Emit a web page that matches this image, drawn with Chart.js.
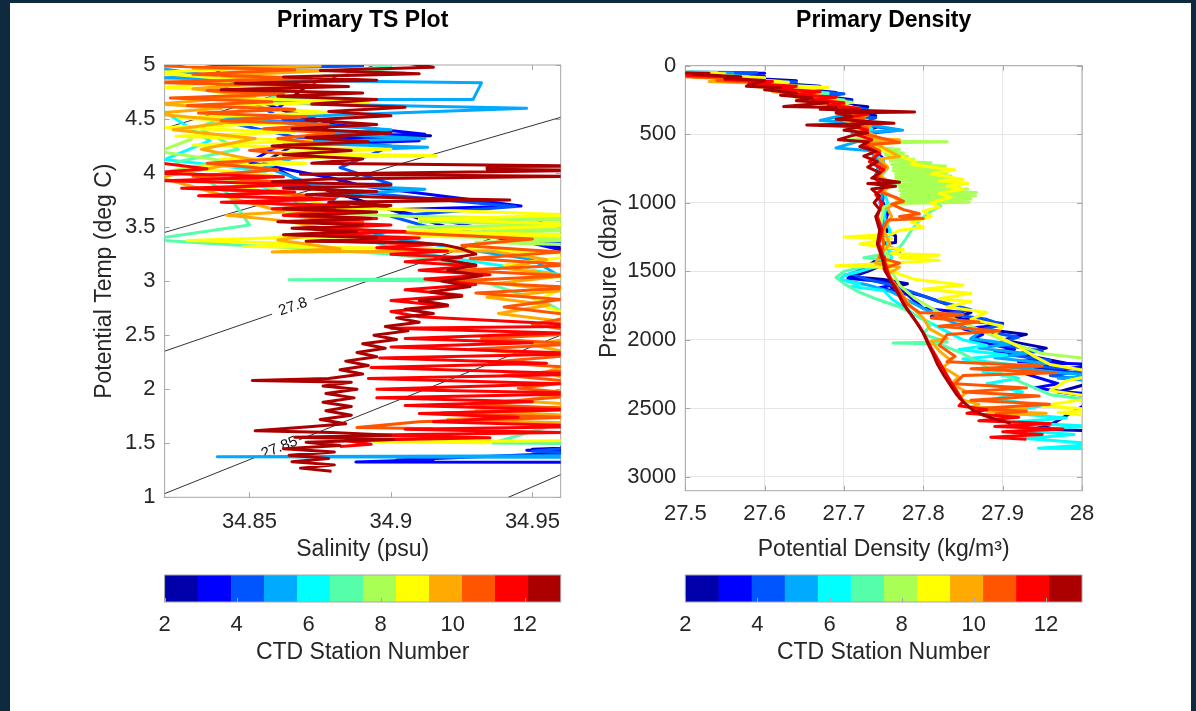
<!doctype html>
<html lang="en">
<head>
<meta charset="utf-8" />
<title>Primary TS Plot / Primary Density</title>
<script src="https://cdn.jsdelivr.net/npm/chart.js"></script>
<style>
  body { margin: 0; width: 1196px; height: 711px; background: #0d2a3f; position: relative; overflow: hidden; }
  #sheet { position: absolute; left: 10px; top: 3px; width: 1181px; height: 708px; background: #fff; }
  canvas { position: absolute; }
</style>
</head>
<body>
<div id="sheet"></div>
<canvas id="chartTS" width="600" height="572" style="left:0;top:0"></canvas>
<canvas id="chartDensity" width="606" height="572" style="left:590px;top:0"></canvas>
<canvas id="barTS" width="600" height="110" style="left:0;top:570px"></canvas>
<canvas id="barDensity" width="606" height="110" style="left:590px;top:570px"></canvas>
<script>
const FONT = "'Liberation Sans', Arial, Helvetica, sans-serif";
const INK = '#262626';
const BOX = '#a6a6a6';

// CTD stations and their colours (jet, 12 levels)
const stationNumbers = [2, 3, 4, 5, 6, 7, 8, 9, 10, 11, 12, 13];
const stationColors = ['#0000AA', '#0000FF', '#0055FF', '#00AAFF', '#00FFFF', '#55FFAA',
                       '#AAFF55', '#FFFF00', '#FFAA00', '#FF5500', '#FF0000', '#AA0000'];
const colorbarEdges = [2, 2.917, 3.833, 4.75, 5.667, 6.583, 7.5, 8.417, 9.333, 10.25, 11.167, 12.083, 13];
const colorbarTicks = [2, 4, 6, 8, 10, 12];

// TS plot ticks
const salTicks = [34.85, 34.9, 34.95];
const tempTicks = [1, 1.5, 2, 2.5, 3, 3.5, 4, 4.5, 5];
// density plot ticks
const rhoTicks = [27.5, 27.6, 27.7, 27.8, 27.9, 28];
const presTicks = [0, 500, 1000, 1500, 2000, 2500, 3000];

// isopycnals on the TS plot [salinity, temp]
const isoA = [[34.82, 4.414], [34.8947, 5.0]];
const isoB = [[34.82, 3.451], [34.96, 4.516]];
const isoC1 = [[34.82, 2.352], [34.858, 2.695]];
const isoC2 = [[34.873, 2.831], [34.96, 3.616]];
const isoD1 = [[34.82, 1.034], [34.8535, 1.385]];
const isoD2 = [[34.8675, 1.531], [34.96, 2.50]];
const isoE = [[34.9415, 1.0], [34.96, 1.21]];
const isoLabelText = ['27.8', '27.85'];
const isoLabelAt = [[34.8654, 2.762], [34.8606, 1.459]];

// TS traces per station [salinity, potential temp]
const ts2 = [[34.86,5.02],[34.84,4.8],[34.87,4.5],[34.88,4.365],[34.914,4.345],[34.87,4.32],[34.855,4.1],[34.87,3.9],[34.895,3.7],[34.92,3.5],[34.945,3.36],[34.955,3.345],[34.975,3.2],[34.98,2.0],[34.96,1.455],[34.95,1.445],[34.975,1.43]];
const ts3 = [[34.84,5.02],[34.86,4.98],[34.85,4.9],[34.87,4.8],[34.86,4.6],[34.88,4.45],[34.912,4.36],[34.87,4.33],[34.91,4.30],[34.86,4.25],[34.85,4.1],[34.88,3.95],[34.89,3.88],[34.946,3.695],[34.9,3.66],[34.93,3.5],[34.95,3.35],[34.975,3.2],[34.98,2.5],[34.98,1.6],[34.96,1.445],[34.948,1.435],[34.97,1.415],[34.902,1.345],[34.915,1.35],[34.8876,1.327],[34.97,1.325]];
const ts4 = [[34.82,5.0],[34.855,5.0],[34.89,4.99],[34.84,4.97],[34.836,4.86],[34.862,4.5],[34.874,4.48],[34.842,4.47],[34.872,4.3],[34.9,4.25],[34.882,4.05],[34.9,3.9],[34.862,3.885],[34.944,3.69],[34.9,3.6],[34.92,3.45],[34.96,3.35],[34.98,3.0],[34.98,1.5],[34.95,1.425],[34.97,1.405]];
const ts5 = [[34.81,5.0],[34.838,4.895],[34.818,4.88],[34.889,4.85],[34.932,4.835],[34.929,4.68],[34.852,4.68],[34.872,4.64],[34.948,4.60],[34.862,4.52],[34.838,4.50],[34.872,4.45],[34.9,4.40],[34.88,4.36],[34.912,4.32],[34.862,4.28],[34.913,4.24],[34.872,4.2],[34.856,4.05],[34.872,3.9],[34.912,3.85],[34.882,3.8],[34.872,3.6],[34.9,3.4],[34.95,3.2],[34.975,2.8],[34.975,1.6],[34.962,1.385],[34.8386,1.375],[34.97,1.37]];
const ts6 = [[34.815,4.65],[34.836,4.3],[34.82,4.125],[34.856,4.02],[34.842,4.0],[34.862,3.8],[34.882,3.5],[34.9,3.3],[34.975,3.0],[34.975,1.6]];
const ts7 = [[34.878,5.06],[34.9,4.98],[34.884,4.955],[34.905,4.925],[34.876,4.9],[34.868,4.8],[34.85,4.62],[34.832,4.42],[34.846,4.22],[34.824,4.1],[34.842,3.82],[34.85,3.52],[34.815,3.385],[34.845,3.335],[34.87,3.305],[34.9,3.25],[34.93,3.15],[34.926,3.022],[34.864,3.012],[34.932,3.0],[34.955,2.8],[34.975,2.5],[34.975,1.8],[34.936,1.502],[34.975,1.495]];
const ts8 = [[34.83,4.32],[34.818,4.2],[34.842,4.11],[34.822,4.02],[34.852,3.9],[34.872,3.76],[34.86,3.65],[34.905,3.6],[34.975,3.575],[34.91,3.55],[34.975,3.525],[34.906,3.50],[34.975,3.475],[34.91,3.45],[34.975,3.43],[34.918,3.41],[34.975,3.385],[34.93,3.36],[34.975,3.33],[34.98,3.0],[34.98,2.0]];
const ts9 = [[34.82,5.03],[34.842,4.96],[34.815,4.93],[34.848,4.86],[34.82,4.79],[34.862,4.745],[34.83,4.70],[34.892,4.66],[34.84,4.63],[34.878,4.56],[34.825,4.51],[34.862,4.46],[34.818,4.42],[34.866,4.38],[34.824,4.34],[34.872,4.30],[34.83,4.26],[34.9,4.22],[34.86,4.19],[34.916,4.16],[34.84,4.13],[34.87,4.09],[34.828,4.05],[34.858,3.98],[34.845,3.88],[34.868,3.77],[34.88,3.68],[34.93,3.645],[34.966,3.61],[34.91,3.575],[34.97,3.52],[34.902,3.46],[34.97,3.425],[34.862,3.405],[34.828,3.375],[34.872,3.345],[34.848,3.32],[34.92,3.3],[34.97,3.25],[34.94,3.15],[34.966,3.0],[34.95,2.8],[34.975,2.6],[34.962,2.3],[34.975,2.0],[34.962,1.7],[34.975,1.525],[34.894,1.512],[34.935,1.505]];
const ts10 = [[34.85,5.06],[34.875,4.99],[34.83,4.97],[34.878,4.95],[34.84,4.9],[34.862,4.84],[34.83,4.78],[34.852,4.71],[34.818,4.64],[34.84,4.6],[34.815,4.55],[34.845,4.48],[34.823,4.4],[34.852,4.32],[34.833,4.22],[34.852,4.12],[34.818,3.96],[34.832,3.86],[34.845,3.76],[34.862,3.64],[34.842,3.61],[34.862,3.56],[34.882,3.46],[34.86,3.38],[34.882,3.30],[34.858,3.27],[34.935,3.28],[34.955,3.2],[34.94,3.12],[34.962,3.05],[34.938,2.98],[34.96,2.91],[34.934,2.85],[34.956,2.78],[34.938,2.7],[34.96,2.63],[34.97,2.5],[34.95,2.41],[34.97,2.3],[34.955,2.16],[34.972,2.0],[34.945,1.89],[34.972,1.85],[34.93,1.8],[34.962,1.76],[34.92,1.72],[34.975,1.68]];
const ts11 = [[34.84,5.06],[34.82,4.99],[34.866,4.955],[34.83,4.915],[34.872,4.875],[34.815,4.84],[34.877,4.80],[34.835,4.765],[34.862,4.73],[34.822,4.695],[34.858,4.66],[34.828,4.625],[34.866,4.59],[34.832,4.555],[34.87,4.52],[34.84,4.485],[34.878,4.45],[34.855,4.41],[34.88,4.37],[34.86,4.32],[34.876,4.27],[34.85,4.21],[34.872,4.15],[34.835,4.09],[34.86,4.03],[34.83,3.97],[34.865,3.91],[34.838,3.85],[34.872,3.79],[34.852,3.73],[34.88,3.67],[34.862,3.61],[34.89,3.55],[34.88,3.49],[34.91,3.44],[34.95,3.39],[34.925,3.33],[34.96,3.27],[34.928,3.21],[34.965,3.15],[34.924,3.10],[34.962,3.05],[34.92,3.0],[34.966,2.94],[34.93,2.89],[34.96,2.83],[34.94,2.76],[34.966,2.68],[34.95,2.6],[34.97,2.52],[34.932,2.47],[34.966,2.42],[34.928,2.37],[34.962,2.31],[34.935,2.25],[34.97,2.19],[34.94,2.13],[34.965,2.07],[34.945,2.01],[34.97,1.95],[34.928,1.86],[34.966,1.82],[34.918,1.78],[34.962,1.74],[34.91,1.70],[34.888,1.645],[34.915,1.635]];
const ts12 = [[34.80,4.15],[34.835,4.04],[34.815,4.0],[34.862,3.965],[34.82,3.93],[34.87,3.895],[34.826,3.86],[34.866,3.825],[34.832,3.79],[34.88,3.76],[34.84,3.73],[34.885,3.70],[34.858,3.67],[34.89,3.64],[34.862,3.61],[34.895,3.58],[34.868,3.55],[34.9,3.52],[34.872,3.49],[34.905,3.46],[34.876,3.43],[34.91,3.40],[34.88,3.37],[34.915,3.34],[34.895,3.31],[34.92,3.28],[34.9,3.25],[34.925,3.22],[34.905,3.18],[34.93,3.14],[34.91,3.10],[34.935,3.06],[34.912,3.02],[34.93,2.97],[34.905,2.92],[34.925,2.87],[34.90,2.82],[34.92,2.77],[34.9,2.72],[34.91,2.67],[34.975,2.585],[34.90,2.565],[34.96,2.52],[34.905,2.47],[34.95,2.43],[34.9,2.39],[34.97,2.33],[34.896,2.29],[34.955,2.24],[34.893,2.2],[34.97,2.14],[34.892,2.1],[34.96,2.05],[34.895,2.0],[34.975,1.96],[34.895,1.92],[34.95,1.885],[34.905,1.85],[34.965,1.81],[34.91,1.775],[34.945,1.74],[34.915,1.70],[34.975,1.655],[34.905,1.63],[34.96,1.6],[34.888,1.575],[34.935,1.55],[34.884,1.525],[34.893,1.49],[34.882,1.47]];
const ts13 = [[34.895,5.06],[34.915,4.98],[34.875,4.95],[34.91,4.92],[34.862,4.89],[34.895,4.86],[34.845,4.83],[34.885,4.80],[34.84,4.77],[34.89,4.74],[34.86,4.71],[34.895,4.68],[34.872,4.64],[34.905,4.61],[34.878,4.57],[34.9,4.53],[34.87,4.49],[34.895,4.45],[34.865,4.41],[34.9,4.37],[34.87,4.33],[34.892,4.29],[34.858,4.25],[34.886,4.21],[34.862,4.17],[34.89,4.13],[34.872,4.09],[34.97,4.065],[34.934,4.06],[34.934,4.035],[34.97,4.025],[34.868,3.99],[34.965,3.97],[34.878,3.945],[34.858,3.92],[34.9,3.89],[34.862,3.86],[34.895,3.83],[34.87,3.80],[34.905,3.77],[34.942,3.75],[34.878,3.73],[34.9,3.70],[34.862,3.67],[34.895,3.64],[34.868,3.61],[34.893,3.58],[34.86,3.55],[34.89,3.52],[34.865,3.49],[34.888,3.46],[34.862,3.43],[34.895,3.40],[34.87,3.37],[34.905,3.36],[34.918,3.34],[34.925,3.3],[34.93,3.25],[34.918,3.2],[34.93,3.15],[34.92,3.1],[34.932,3.05],[34.918,3.0],[34.928,2.95],[34.914,2.9],[34.925,2.86],[34.91,2.82],[34.92,2.78],[34.905,2.74],[34.915,2.7],[34.902,2.66],[34.91,2.62],[34.898,2.58],[34.906,2.54],[34.894,2.5],[34.902,2.46],[34.89,2.42],[34.898,2.38],[34.888,2.34],[34.895,2.3],[34.884,2.26],[34.892,2.22],[34.882,2.18],[34.89,2.14],[34.878,2.1],[34.851,2.08],[34.886,2.065],[34.876,2.03],[34.888,2.0],[34.877,1.96],[34.887,1.92],[34.876,1.88],[34.886,1.84],[34.877,1.8],[34.886,1.76],[34.875,1.72],[34.884,1.68],[34.87,1.65],[34.852,1.615],[34.879,1.6],[34.9,1.575],[34.866,1.555],[34.901,1.535],[34.87,1.51],[34.882,1.48],[34.862,1.45],[34.88,1.42],[34.864,1.39],[34.878,1.36],[34.865,1.33],[34.88,1.3],[34.868,1.27],[34.879,1.24]];

// density profiles per station [potential density, pressure]
const rho2 = [[27.49,48],[27.57,55],[27.55,63],[27.60,78],[27.58,92],[27.64,110],[27.62,130],[27.67,150],[27.65,172],[27.69,195],[27.67,220],[27.71,248],[27.69,275],[27.73,300],[27.71,330],[27.74,365],[27.72,400],[27.745,440],[27.725,480],[27.745,540],[27.74,620],[27.75,720],[27.745,820],[27.75,920],[27.748,1020],[27.752,1120],[27.755,1220],[27.765,1240],[27.765,1290],[27.75,1300],[27.76,1330],[27.77,1340],[27.77,1360],[27.752,1370],[27.75,1450],[27.73,1500],[27.71,1540],[27.75,1560],[27.78,1590],[27.76,1620],[27.8,1680],[27.83,1740],[27.86,1800],[27.84,1840],[27.9,1880],[27.875,1920],[27.93,1960],[27.9,2000],[27.955,2060],[27.92,2100],[27.98,2170],[27.94,2200],[27.99,2240],[28.02,2300],[27.97,2380],[28.02,2420],[27.96,2620],[27.94,2650],[28.0,2660]];
const rho3 = [[27.50,50],[27.60,55],[27.55,62],[27.59,80],[27.57,95],[27.63,115],[27.61,135],[27.66,155],[27.64,178],[27.69,200],[27.66,225],[27.70,250],[27.68,275],[27.72,305],[27.70,340],[27.725,375],[27.71,415],[27.735,450],[27.72,490],[27.74,540],[27.735,600],[27.75,680],[27.745,780],[27.75,880],[27.748,980],[27.755,1080],[27.75,1180],[27.752,1280],[27.75,1380],[27.73,1460],[27.71,1520],[27.705,1550],[27.74,1570],[27.77,1590],[27.745,1620],[27.78,1670],[27.80,1770],[27.85,1800],[27.81,1830],[27.9,1890],[27.85,1920],[27.875,1960],[27.86,2000],[27.915,2070],[27.89,2090],[27.95,2140],[27.92,2160],[28.02,2180],[27.93,2250],[27.97,2320],[27.94,2350],[27.98,2380],[28.02,2400]];
const rho4 = [[27.48,45],[27.59,52],[27.57,60],[27.53,70],[27.60,85],[27.58,100],[27.64,118],[27.62,138],[27.67,158],[27.65,180],[27.70,205],[27.67,230],[27.71,260],[27.69,290],[27.73,320],[27.70,355],[27.74,380],[27.715,420],[27.745,450],[27.77,470],[27.72,500],[27.74,540],[27.73,600],[27.745,700],[27.74,800],[27.75,900],[27.748,1000],[27.752,1100],[27.75,1200],[27.755,1300],[27.75,1400],[27.735,1470],[27.71,1520],[27.73,1560],[27.76,1600],[27.79,1660],[27.82,1720],[27.86,1780],[27.83,1810],[27.88,1850],[27.9,1890],[27.87,1930],[27.92,1980],[27.89,2030],[27.95,2080],[27.91,2110],[27.96,2150],[27.935,2190],[28.01,2220],[27.96,2260],[28.02,2300]];
const rho5 = [[27.46,48],[27.56,55],[27.54,65],[27.513,80],[27.59,95],[27.57,112],[27.63,130],[27.61,150],[27.66,172],[27.64,195],[27.68,220],[27.66,245],[27.70,270],[27.68,300],[27.72,330],[27.70,360],[27.67,400],[27.72,420],[27.774,470],[27.71,490],[27.73,530],[27.69,600],[27.735,620],[27.745,700],[27.74,800],[27.75,900],[27.745,1000],[27.752,1100],[27.748,1200],[27.755,1300],[27.75,1400],[27.73,1480],[27.70,1530],[27.695,1560],[27.73,1600],[27.76,1650],[27.78,1710],[27.80,1770],[27.82,1830],[27.845,1890],[27.87,1950],[27.86,1990],[27.91,2030],[27.87,2060],[27.93,2100],[27.89,2130],[27.955,2170],[27.91,2200],[27.96,2230],[28.02,2265],[27.97,2280],[28.02,2300]];
const rho6 = [[27.47,52],[27.53,62],[27.51,75],[27.58,90],[27.56,105],[27.62,122],[27.60,140],[27.65,160],[27.63,182],[27.68,205],[27.66,228],[27.70,255],[27.68,280],[27.715,310],[27.70,345],[27.725,380],[27.71,420],[27.735,460],[27.72,500],[27.74,560],[27.735,620],[27.75,700],[27.745,800],[27.75,900],[27.755,1000],[27.75,1100],[27.758,1200],[27.755,1300],[27.76,1400],[27.75,1450],[27.72,1500],[27.70,1530],[27.695,1560],[27.72,1590],[27.71,1610],[27.75,1640],[27.76,1700],[27.775,1760],[27.79,1820],[27.81,1880],[27.83,1940],[27.85,2000],[27.88,2040],[27.845,2070],[27.905,2110],[27.85,2140],[27.91,2180],[27.875,2230],[27.92,2280],[27.88,2320],[27.925,2380],[27.89,2430],[27.95,2480],[27.9,2530],[27.98,2570],[27.91,2600],[28.01,2630],[27.92,2660],[27.99,2690],[27.93,2720],[28.02,2760],[27.945,2790],[28.02,2792]];
const rho7 = [[27.46,42],[27.54,50],[27.52,62],[27.58,80],[27.56,95],[27.62,115],[27.60,135],[27.65,155],[27.63,175],[27.68,200],[27.66,220],[27.70,250],[27.68,275],[27.72,310],[27.70,350],[27.73,400],[27.71,450],[27.735,500],[27.725,560],[27.745,620],[27.735,680],[27.755,750],[27.745,820],[27.775,880],[27.79,930],[27.81,980],[27.822,1025],[27.81,1060],[27.795,1130],[27.785,1200],[27.775,1290],[27.765,1360],[27.725,1400],[27.76,1420],[27.70,1500],[27.69,1545],[27.70,1590],[27.715,1640],[27.74,1700],[27.77,1760],[27.79,1820],[27.81,1880],[27.80,1960],[27.83,2015],[27.762,2022],[27.82,2030],[27.85,2100],[27.88,2200],[27.92,2300],[27.96,2400],[28.03,2450]];
const rho8 = [[27.47,50],[27.52,62],[27.50,75],[27.57,90],[27.55,105],[27.61,125],[27.59,145],[27.64,165],[27.62,185],[27.67,205],[27.65,225],[27.71,268],[27.69,290],[27.72,330],[27.70,370],[27.73,420],[27.715,470],[27.73,520],[27.70,548],[27.83,555],[27.73,565],[27.75,600],[27.77,612],[27.75,624],[27.775,636],[27.752,648],[27.78,660],[27.755,672],[27.788,684],[27.758,696],[27.81,708],[27.76,720],[27.828,732],[27.762,744],[27.83,756],[27.762,768],[27.83,780],[27.765,792],[27.835,804],[27.765,816],[27.837,828],[27.765,840],[27.84,852],[27.768,864],[27.846,876],[27.77,888],[27.856,900],[27.77,912],[27.867,924],[27.772,936],[27.866,948],[27.772,960],[27.86,972],[27.77,984],[27.858,996],[27.765,1006],[27.75,1030],[27.748,1100],[27.745,1200],[27.75,1300],[27.755,1400],[27.76,1500],[27.77,1600],[27.79,1700],[27.82,1800],[27.86,1900],[27.9,2000],[27.95,2100],[28.03,2150]];
const rho9 = [[27.48,45],[27.55,58],[27.53,70],[27.60,88],[27.58,100],[27.63,120],[27.61,140],[27.68,158],[27.64,175],[27.67,200],[27.65,220],[27.69,245],[27.67,270],[27.71,300],[27.69,330],[27.72,360],[27.70,400],[27.73,440],[27.715,480],[27.735,530],[27.73,580],[27.75,620],[27.77,660],[27.79,700],[27.785,720],[27.84,760],[27.81,790],[27.85,830],[27.82,840],[27.856,860],[27.83,880],[27.85,900],[27.82,930],[27.835,960],[27.81,1000],[27.82,1030],[27.80,1060],[27.81,1100],[27.785,1140],[27.80,1180],[27.77,1200],[27.76,1230],[27.70,1250],[27.76,1260],[27.72,1300],[27.775,1340],[27.76,1370],[27.82,1380],[27.77,1400],[27.82,1420],[27.76,1440],[27.69,1460],[27.75,1470],[27.77,1520],[27.79,1560],[27.85,1600],[27.8,1630],[27.86,1660],[27.82,1700],[27.86,1720],[27.83,1760],[27.88,1800],[27.86,1850],[27.9,1900],[27.89,1960],[27.92,2050],[27.94,2120],[27.96,2180],[28.0,2220],[28.02,2250],[27.98,2300],[27.96,2370],[28.02,2420],[27.95,2480],[28.02,2510],[27.97,2530],[28.02,2560]];
const rho10 = [[27.47,60],[27.53,72],[27.51,85],[27.58,100],[27.53,115],[27.60,130],[27.58,150],[27.63,170],[27.61,190],[27.66,215],[27.64,235],[27.69,260],[27.67,280],[27.71,305],[27.69,330],[27.73,360],[27.71,390],[27.735,430],[27.72,470],[27.74,510],[27.73,530],[27.77,541],[27.735,560],[27.75,600],[27.77,663],[27.745,680],[27.755,740],[27.745,800],[27.76,860],[27.75,920],[27.77,980],[27.755,1040],[27.76,1100],[27.75,1200],[27.758,1300],[27.745,1380],[27.74,1440],[27.77,1470],[27.755,1520],[27.765,1600],[27.775,1680],[27.785,1760],[27.8,1840],[27.808,1920],[27.83,1990],[27.81,2010],[27.82,2080],[27.835,2150],[27.825,2200],[27.845,2270],[27.835,2320],[27.855,2380],[27.845,2430],[27.87,2470],[27.86,2490],[27.93,2505],[27.88,2520],[27.955,2535],[27.89,2550]];
const rho11 = [[27.45,55],[27.51,65],[27.49,78],[27.56,92],[27.54,108],[27.60,125],[27.58,140],[27.63,160],[27.61,180],[27.66,200],[27.64,220],[27.68,240],[27.66,260],[27.70,285],[27.68,305],[27.72,330],[27.70,355],[27.725,385],[27.71,420],[27.73,455],[27.72,490],[27.77,560],[27.73,575],[27.745,620],[27.735,680],[27.752,740],[27.74,800],[27.755,860],[27.745,920],[27.765,960],[27.775,990],[27.76,1010],[27.775,1050],[27.795,1080],[27.77,1100],[27.80,1115],[27.755,1125],[27.748,1200],[27.75,1300],[27.745,1400],[27.77,1440],[27.75,1480],[27.76,1560],[27.77,1650],[27.78,1740],[27.795,1800],[27.85,1815],[27.81,1840],[27.87,1870],[27.82,1900],[27.896,1935],[27.83,1960],[27.82,2040],[27.84,2120],[27.83,2160],[27.95,2190],[27.86,2210],[27.967,2240],[27.85,2260],[27.84,2320],[27.93,2350],[27.85,2380],[27.946,2410],[27.86,2440],[27.959,2470],[27.87,2500],[27.93,2520],[27.89,2540]];
const rho12 = [[27.46,50],[27.52,60],[27.50,70],[27.57,85],[27.55,100],[27.61,115],[27.58,130],[27.64,150],[27.62,170],[27.67,190],[27.64,210],[27.69,230],[27.66,250],[27.70,270],[27.68,290],[27.72,310],[27.69,330],[27.73,355],[27.70,380],[27.725,410],[27.71,440],[27.73,470],[27.715,500],[27.735,540],[27.725,580],[27.745,640],[27.732,700],[27.75,760],[27.738,820],[27.752,880],[27.74,940],[27.748,1000],[27.742,1100],[27.748,1200],[27.744,1300],[27.75,1400],[27.755,1500],[27.76,1580],[27.768,1660],[27.775,1740],[27.785,1820],[27.795,1900],[27.803,1980],[27.81,2060],[27.818,2140],[27.826,2220],[27.834,2300],[27.843,2380],[27.85,2450],[27.845,2480],[27.88,2510],[27.855,2535],[27.92,2565],[27.87,2590],[27.96,2610],[27.89,2632],[27.976,2650],[27.9,2670],[27.95,2690],[27.885,2710],[27.93,2725]];
const rho13 = [[27.45,45],[27.53,55],[27.51,62],[27.57,80],[27.55,92],[27.60,108],[27.577,150],[27.62,160],[27.60,175],[27.64,200],[27.62,215],[27.66,235],[27.64,255],[27.68,270],[27.624,298],[27.69,305],[27.67,318],[27.789,337],[27.69,345],[27.71,370],[27.69,390],[27.763,420],[27.653,432],[27.72,445],[27.70,470],[27.73,490],[27.71,510],[27.693,540],[27.73,555],[27.72,590],[27.74,625],[27.725,660],[27.742,700],[27.73,740],[27.745,780],[27.735,820],[27.77,850],[27.73,860],[27.765,880],[27.735,900],[27.745,950],[27.738,1000],[27.745,1050],[27.74,1100],[27.745,1200],[27.742,1300],[27.748,1400],[27.752,1500],[27.758,1560],[27.765,1620],[27.772,1700],[27.78,1780],[27.79,1860],[27.80,1950],[27.806,2030],[27.812,2100],[27.818,2180],[27.826,2260],[27.834,2330],[27.842,2400],[27.852,2460],[27.862,2510],[27.876,2550],[27.892,2580],[27.905,2600],[27.91,2610]];

const tsStations = [ts2, ts3, ts4, ts5, ts6, ts7, ts8, ts9, ts10, ts11, ts12, ts13];
const rhoStations = [rho2, rho3, rho4, rho5, rho6, rho7, rho8, rho9, rho10, rho11, rho12, rho13];

function toXY(points) {
    return points.map(p => ({ x: p[0], y: p[1] }));
}

function stationDatasets(traces) {
    return traces.map((trace, i) => ({
        label: 'Station ' + stationNumbers[i],
        data: toXY(trace),
        showLine: true,
        borderColor: stationColors[i],
        borderWidth: 3,
        borderJoinStyle: 'round',
        pointRadius: 0,
        tension: 0,
        clip: 0,
        order: stationNumbers.length - i
    }));
}

function isoDataset(points) {
    return {
        data: toXY(points), showLine: true, borderColor: '#333333', borderWidth: 1,
        pointRadius: 0, tension: 0, clip: 0, order: 100
    };
}

function fixedTicks(values) {
    return scale => { scale.ticks = values.map(v => ({ value: v })); };
}

// box and inward ticks, MATLAB style
const axesBox = {
    id: 'axesBox',
    beforeDatasetsDraw(chart, args, opts) {
        if (opts.bottomOnly) return;
        const { ctx, chartArea: a, scales } = chart;
        const len = 5;
        ctx.save();
        ctx.strokeStyle = BOX;
        ctx.lineWidth = 1;
        ctx.strokeRect(a.left, a.top, a.right - a.left, a.bottom - a.top);
        ctx.beginPath();
        scales.x.ticks.forEach(t => {
            const px = Math.round(scales.x.getPixelForValue(t.value)) + 0.5;
            ctx.moveTo(px, a.bottom); ctx.lineTo(px, a.bottom - len);
            ctx.moveTo(px, a.top); ctx.lineTo(px, a.top + len);
        });
        scales.y.ticks.forEach(t => {
            const py = Math.round(scales.y.getPixelForValue(t.value)) + 0.5;
            ctx.moveTo(a.left, py); ctx.lineTo(a.left + len, py);
            ctx.moveTo(a.right, py); ctx.lineTo(a.right - len, py);
        });
        ctx.stroke();
        ctx.restore();
    },
    afterDatasetsDraw(chart, args, opts) {
        if (!opts.bottomOnly) return;
        const { ctx, chartArea: a, scales } = chart;
        ctx.save();
        ctx.strokeStyle = BOX;
        ctx.lineWidth = 1;
        ctx.strokeRect(a.left, a.top, a.right - a.left, a.bottom - a.top);
        ctx.beginPath();
        scales.x.ticks.forEach(t => {
            const px = Math.round(scales.x.getPixelForValue(t.value)) + 0.5;
            ctx.moveTo(px, a.bottom); ctx.lineTo(px, a.bottom - 4);
        });
        ctx.stroke();
        ctx.restore();
    }
};

const figTitle = {
    id: 'figTitle',
    afterDraw(chart, args, opts) {
        if (!opts.text) return;
        const { ctx, chartArea: a } = chart;
        ctx.save();
        ctx.font = 'bold 23px ' + FONT;
        ctx.fillStyle = '#000';
        ctx.textAlign = 'center';
        ctx.textBaseline = 'middle';
        ctx.fillText(opts.text, (a.left + a.right) / 2, 21);
        ctx.restore();
    }
};

const contourLabels = {
    id: 'contourLabels',
    beforeDatasetsDraw(chart) {
        const { ctx, scales: { x, y } } = chart;
        const lines = [[isoC1[0], isoC2[1]], [isoD1[0], isoD2[1]]];
        ctx.save();
        ctx.font = '15px ' + FONT;
        ctx.fillStyle = '#111';
        ctx.textAlign = 'center';
        ctx.textBaseline = 'middle';
        isoLabelText.forEach((text, i) => {
            const [p0, p1] = lines[i];
            const ang = Math.atan2(y.getPixelForValue(p1[1]) - y.getPixelForValue(p0[1]),
                                   x.getPixelForValue(p1[0]) - x.getPixelForValue(p0[0]));
            ctx.save();
            ctx.translate(x.getPixelForValue(isoLabelAt[i][0]), y.getPixelForValue(isoLabelAt[i][1]));
            ctx.rotate(ang);
            ctx.fillText(text, 0, 0);
            ctx.restore();
        });
        ctx.restore();
    }
};

function tickFont() { return { family: FONT, size: 22 }; }
function labelFont() { return { family: FONT, size: 23 }; }

const tsDatasets = [isoA, isoB, isoC1, isoC2, isoD1, isoD2, isoE].map(isoDataset)
    .concat(stationDatasets(tsStations));

new Chart(document.getElementById('chartTS'), {
    type: 'scatter',
    data: { datasets: tsDatasets },
    options: {
        responsive: false, animation: false, events: [], devicePixelRatio: 1,
        layout: { padding: { left: 0, right: 39.3, top: 65, bottom: 0 } },
        plugins: { legend: { display: false }, tooltip: { enabled: false }, figTitle: { text: 'Primary TS Plot' } },
        scales: {
            x: {
                type: 'linear', min: 34.82, max: 34.96,
                afterBuildTicks: fixedTicks(salTicks),
                afterFit: s => { s.height = 74.7; },
                grid: { display: false, drawTicks: false }, border: { display: false },
                ticks: { font: tickFont(), color: INK, padding: 11.4, maxRotation: 0, autoSkip: false, callback: v => String(v) },
                title: { display: true, text: 'Salinity (psu)', font: labelFont(), color: INK, padding: { top: 0, bottom: 8.2 } }
            },
            y: {
                type: 'linear', min: 1, max: 5,
                afterBuildTicks: fixedTicks(tempTicks),
                afterFit: s => { s.width = 164.6; },
                grid: { display: false, drawTicks: false }, border: { display: false },
                ticks: { font: tickFont(), color: INK, padding: 9, autoSkip: false, callback: v => String(v) },
                title: { display: true, text: 'Potential Temp (deg C)', font: labelFont(), color: INK, padding: { top: 91.2, bottom: 0 } }
            }
        }
    },
    plugins: [axesBox, figTitle, contourLabels]
});

new Chart(document.getElementById('chartDensity'), {
    type: 'scatter',
    data: { datasets: stationDatasets(rhoStations) },
    options: {
        responsive: false, animation: false, events: [], devicePixelRatio: 1,
        layout: { padding: { left: 0, right: 114, top: 65.7, bottom: 0 } },
        plugins: { legend: { display: false }, tooltip: { enabled: false }, figTitle: { text: 'Primary Density' } },
        scales: {
            x: {
                type: 'linear', min: 27.5, max: 28,
                afterBuildTicks: fixedTicks(rhoTicks),
                afterFit: s => { s.height = 81.3; },
                grid: { display: true, color: '#e6e6e6', drawTicks: false }, border: { display: false },
                ticks: { font: tickFont(), color: INK, padding: 10.4, maxRotation: 0, autoSkip: false, callback: v => String(v) },
                title: { display: true, text: 'Potential Density (kg/m³)', font: labelFont(), color: INK, padding: { top: 0, bottom: 8.2 } }
            },
            y: {
                type: 'linear', min: 0, max: 3100, reverse: true,
                afterBuildTicks: fixedTicks(presTicks),
                afterFit: s => { s.width = 95.3; },
                grid: { display: true, color: '#e6e6e6', drawTicks: false }, border: { display: false },
                ticks: { font: tickFont(), color: INK, padding: 9, autoSkip: false, callback: v => String(v) },
                title: { display: true, text: 'Pressure (dbar)', font: labelFont(), color: INK, padding: { top: 5.7, bottom: 0 } }
            }
        }
    },
    plugins: [axesBox, figTitle]
});

function buildColorbar(canvasId, padLeft, padRight) {
    new Chart(document.getElementById(canvasId), {
        type: 'bar',
        data: {
            labels: ['CTD'],
            datasets: stationColors.map((c, i) => ({
                data: [[colorbarEdges[i], colorbarEdges[i + 1]]],
                backgroundColor: c, borderWidth: 0, grouped: false,
                barPercentage: 1, categoryPercentage: 1
            }))
        },
        options: {
            indexAxis: 'y',
            responsive: false, animation: false, events: [], devicePixelRatio: 1,
            layout: { padding: { left: padLeft, right: padRight, top: 5, bottom: 0 } },
            plugins: { legend: { display: false }, tooltip: { enabled: false }, axesBox: { bottomOnly: true } },
            scales: {
                x: {
                    type: 'linear', min: 2, max: 13,
                    afterBuildTicks: fixedTicks(colorbarTicks),
                    afterFit: s => { s.height = 78; },
                    grid: { display: false, drawTicks: false }, border: { display: false },
                    ticks: { font: tickFont(), color: INK, padding: 10, maxRotation: 0, autoSkip: false, callback: v => String(v) },
                    title: { display: true, text: 'CTD Station Number', font: labelFont(), color: INK, padding: { top: 0, bottom: 13.2 } }
                },
                y: { display: false }
            }
        },
        plugins: [axesBox]
    });
}

buildColorbar('barTS', 164.6, 39.3);
buildColorbar('barDensity', 95.3, 114);
</script>
</body>
</html>
